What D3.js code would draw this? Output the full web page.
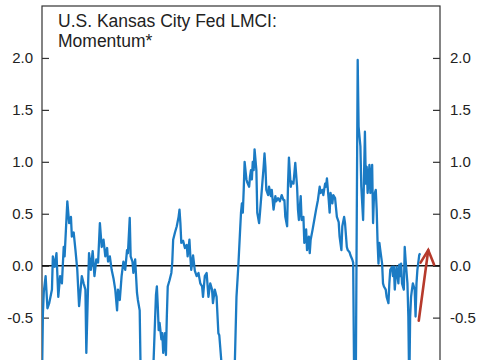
<!DOCTYPE html>
<html>
<head>
<meta charset="utf-8">
<script src="https://cdn.jsdelivr.net/npm/d3@7"></script>
<style>
  html, body { margin: 0; padding: 0; background: #fff; }
  svg { display: block; font-family: "Liberation Sans", Arial, sans-serif; }
</style>
</head>
<body>
<svg id="chart" width="485" height="360"></svg>
<script>
// ---- data (month index from series start, momentum value) ----
const months = [0,1,2,4,6,8,11,12,14,16,18,20,22,24,25,28,30,32,33,35,37,39,41,44,46,48,49,51,52,54,56,58,60,62,64,66,68,70,72,73,75,77,79,81,83,84,86,88,90,92,94,95,97,98,100,101,103,105,106,108,109,114,119,123,126,127,128,129,130,132,133,134,136,137,138,139,141,143,144,145,147,149,151,152,153,154,156,158,160,161,163,164,165,167,169,171,173,175,177,178,180,182,184,186,188,189,191,193,195,196,199,203,209,213,215,217,219,220,221,222,223,224,226,227,229,230,231,232,233,234,235,237,238,240,241,243,245,246,247,248,250,251,253,254,256,258,259,261,263,265,267,268,269,271,272,273,275,276,278,279,280,282,283,284,286,287,289,290,292,293,295,296,297,299,301,303,305,307,308,310,311,313,314,315,317,318,319,321,322,324,326,328,329,331,332,334,335,337,338,340,341,343,344,345,346,347,349,350,352,353,355,356,357,358,359,360,362,363,364,365,366,367,369,370,371,372,373,374,376,377,378,380,381,383,384,385,387,388,389,390,391,392,394,395,396,397,398,400,401,402,404,405,406,407,408,409,410,412,413,414,415,417,418];
const momentum = [-1.10,-0.46,-0.25,-0.10,-0.41,-0.36,-0.23,0.09,-0.01,0.12,-0.30,-0.10,-0.17,0.18,0.09,0.62,0.41,0.47,0.28,0.32,0.15,-0.04,-0.39,-0.10,-0.17,-0.23,-0.84,-0.17,0.12,-0.04,0.14,-0.10,0.06,0.03,0.41,0.18,0.25,0.09,0.17,0.04,0.09,-0.04,-0.12,-0.23,-0.43,-0.23,-0.33,-0.10,0.04,-0.04,0.15,0.12,0.46,0.09,0.04,-0.07,0.06,-0.26,-0.33,-0.43,-1.00,-1.30,-1.30,-1.00,-0.28,-0.20,-0.39,-0.62,-0.55,-0.71,-0.65,-0.84,-0.65,-0.86,-0.49,-0.20,-0.14,-0.07,0.03,0.25,0.32,0.38,0.47,0.54,0.41,0.22,0.24,0.17,0.20,0.09,0.25,0.09,-0.04,0.10,-0.05,-0.10,-0.07,-0.17,-0.20,-0.30,-0.10,-0.07,-0.30,-0.17,-0.23,-0.36,-0.23,-0.30,-0.65,-0.67,-1.00,-1.30,-1.30,-1.00,-0.30,-0.01,0.34,0.51,0.60,0.51,0.73,1.00,0.83,0.80,0.76,0.86,0.92,0.83,1.00,0.92,1.12,0.92,0.51,0.41,0.51,0.73,0.95,1.08,0.95,0.73,0.68,0.76,0.67,0.73,0.54,0.67,0.62,0.65,0.62,0.68,0.63,0.63,0.47,0.38,0.79,1.04,0.76,0.81,0.79,0.89,0.99,0.76,0.54,0.44,0.67,0.44,0.47,0.22,0.35,0.15,0.28,0.12,0.25,0.34,0.44,0.54,0.63,0.76,0.70,0.73,0.68,0.79,0.76,0.84,0.63,0.51,0.70,0.60,0.68,0.65,0.47,0.42,0.28,0.15,0.38,0.47,0.41,0.18,0.15,0.13,0.10,0.06,0.03,-1.00,-1.40,-1.00,1.98,1.34,1.15,0.76,0.44,0.86,1.29,0.79,0.95,0.70,0.97,0.70,0.86,0.97,0.41,0.67,0.73,0.54,0.22,0.02,0.22,0.15,0.02,-0.17,-0.20,-0.23,-0.30,-0.36,-0.17,-0.04,-0.01,-0.10,-0.01,-0.23,-0.10,-0.01,-0.17,0.01,-0.10,0.02,-0.17,-0.23,0.18,0.05,-0.17,-0.49,-1.20,-0.49,-0.30,-0.23,-0.17,-0.23,-0.49,-0.17,-0.04,0.10,0.12];

// red annotation arrow (month, value)
const arrowShaftMonths = [416.5, 427];
const arrowShaftValues = [-0.53, 0.15];
const arrowHeadMonths = [418.5, 427, 433.5];
const arrowHeadValues = [0.03, 0.15, 0.01];

const tickValues = [-0.5, 0.0, 0.5, 1.0, 1.5, 2.0];
const tickLabels = ["-0.5", "0.0", "0.5", "1.0", "1.5", "2.0"];
const titleLines = ["U.S. Kansas City Fed LMCI:", "Momentum*"];

// ---- layout ----
const svg = d3.select("#chart");
const plot = { left: 42, right: 440, top: 6, bottom: 421.5 };

const x = d3.scaleLinear().domain([0, 440]).range([plot.left, plot.right]);
const y = d3.scaleLinear().domain([-1.5, 2.5]).range([plot.bottom, plot.top]);

svg.append("defs").append("clipPath").attr("id", "clip")
  .append("rect")
  .attr("x", plot.left).attr("y", plot.top)
  .attr("width", plot.right - plot.left).attr("height", plot.bottom - plot.top);

// frame
svg.append("rect")
  .attr("x", plot.left).attr("y", plot.top)
  .attr("width", plot.right - plot.left).attr("height", plot.bottom - plot.top)
  .attr("fill", "none").attr("stroke", "#333").attr("stroke-width", 1.2);

// axes
const fmt = v => tickLabels[tickValues.indexOf(v)];
const leftAxis = d3.axisLeft(y).tickValues(tickValues).tickFormat(fmt).tickSize(-7).tickPadding(9);
const rightAxis = d3.axisRight(y).tickValues(tickValues).tickFormat(fmt).tickSize(-7).tickPadding(10);

function styleAxis(g) {
  g.select(".domain").remove();
  g.selectAll(".tick line").attr("stroke", "#333").attr("stroke-width", 1.2);
  g.selectAll(".tick text").attr("fill", "#222").style("font-size", "15px")
    .style("font-family", "'Liberation Sans', Arial, sans-serif");
}
svg.append("g").attr("transform", `translate(${plot.left},0)`).call(leftAxis).call(styleAxis);
svg.append("g").attr("transform", `translate(${plot.right},0)`).call(rightAxis).call(styleAxis);

// zero line
svg.append("line")
  .attr("x1", plot.left).attr("x2", plot.right)
  .attr("y1", y(0)).attr("y2", y(0))
  .attr("stroke", "#111").attr("stroke-width", 1.6);

// series
const series = months.map((m, i) => [m, momentum[i]]);
const line = d3.line().x(d => x(d[0])).y(d => y(d[1]));
svg.append("path")
  .datum(series)
  .attr("clip-path", "url(#clip)")
  .attr("d", line)
  .attr("fill", "none")
  .attr("stroke", "#1b7bc4")
  .attr("stroke-width", 2.3)
  .attr("stroke-linejoin", "round");

// arrow
svg.append("path")
  .datum(arrowShaftMonths.map((m, i) => [m, arrowShaftValues[i]]))
  .attr("d", line).attr("fill", "none")
  .attr("stroke", "#b63a2c").attr("stroke-width", 2.6).attr("stroke-linecap", "round");
svg.append("path")
  .datum(arrowHeadMonths.map((m, i) => [m, arrowHeadValues[i]]))
  .attr("d", line).attr("fill", "none")
  .attr("stroke", "#b63a2c").attr("stroke-width", 2.6)
  .attr("stroke-linecap", "round").attr("stroke-linejoin", "miter");

// title
const title = svg.append("text")
  .attr("x", 58).attr("y", 27)
  .attr("fill", "#222")
  .style("font-size", "17.5px");
titleLines.forEach((t, i) => {
  title.append("tspan").attr("x", 58).attr("dy", i === 0 ? 0 : 20).text(t);
});
</script>
</body>
</html>
